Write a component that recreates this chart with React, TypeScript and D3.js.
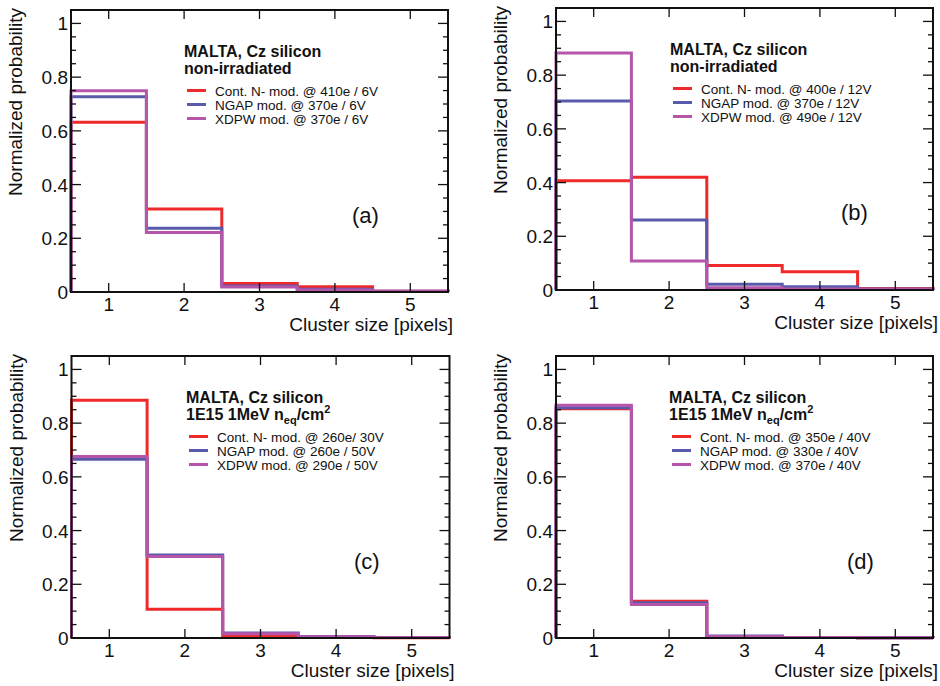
import React from "react";
import * as d3 from "d3";

// ---- data ----
const clusterSizes = [1, 2, 3, 4, 5];
const yTickValues = [0, 0.2, 0.4, 0.6, 0.8, 1];
const yTickLabels = ["0", "0.2", "0.4", "0.6", "0.8", "1"];
const seriesNames = ["Cont. N- mod.", "NGAP mod.", "XDPW mod."];
const seriesColors = ["#ee2a2a", "#5a5aac", "#b656aa"];

// panel (a) non-irradiated
const aContN = [0.632, 0.309, 0.032, 0.02, 0.003];
const aNgap = [0.727, 0.237, 0.022, 0.01, 0.003];
const aXdpw = [0.749, 0.222, 0.019, 0.007, 0.003];
const aSettings = ["@ 410e / 6V", "@ 370e  / 6V", "@ 370e / 6V"];

// panel (b) non-irradiated
const bContN = [0.407, 0.42, 0.091, 0.068, 0.006];
const bNgap = [0.704, 0.261, 0.021, 0.012, 0.004];
const bXdpw = [0.882, 0.108, 0.008, 0.004, 0.003];
const bSettings = ["@ 400e / 12V", "@ 370e  / 12V", "@ 490e  / 12V"];

// panel (c) irradiated
const cContN = [0.885, 0.107, 0.006, 0.002, 0.001];
const cNgap = [0.666, 0.309, 0.019, 0.006, 0.002];
const cXdpw = [0.676, 0.303, 0.016, 0.005, 0.002];
const cSettings = ["@ 260e/ 30V", "@ 260e / 50V", "@ 290e / 50V"];

// panel (d) irradiated
const dContN = [0.854, 0.137, 0.006, 0.002, 0.001];
const dNgap = [0.857, 0.131, 0.007, 0.002, 0.001];
const dXdpw = [0.867, 0.125, 0.006, 0.002, 0.001];
const dSettings = ["@ 350e / 40V", "@ 330e  / 40V", "@ 370e  / 40V"];

const FONT = "'Liberation Sans', Arial, Helvetica, sans-serif";

type PanelProps = {
  left: number;
  right: number;
  top: number;
  bottom: number;
  series: number[][];
  settings: string[];
  irradiated: boolean;
  label: string;
  labelX: number;
  labelY: number;
  legX: number;
  legY: number;
};

function Panel(p: PanelProps) {
  const x = d3.scaleLinear().domain([0.5, 5.5]).range([p.left, p.right]);
  const y = d3.scaleLinear().domain([0, 1.05]).range([p.bottom, p.top]);
  const line = d3
    .line<[number, number]>()
    .x((d) => x(d[0]))
    .y((d) => y(d[1]))
    .curve(d3.curveStepAfter);

  const minorY = d3.range(0, 21).map((i) => i * 0.05).filter((v) => Math.round(v * 100) % 20 !== 0);

  const paths = p.series.map((vals) => {
    const pts: [number, number][] = [[0.5, 0]];
    vals.forEach((v, i) => pts.push([clusterSizes[i] - 0.5, v]));
    pts.push([5.5, vals[vals.length - 1]]);
    pts.push([5.5, 0]);
    return line(pts) as string;
  });

  const majLen = 10;
  const minLen = 5;
  const xLen = 9;

  return (
    <g>
      {paths.map((d, i) => (
        <path key={i} d={d} fill="none" stroke={seriesColors[i]} strokeWidth={3} strokeLinejoin="miter" />
      ))}
      {/* frame */}
      <rect x={p.left} y={p.top} width={p.right - p.left} height={p.bottom - p.top} fill="none" stroke="#111" strokeWidth={2} />
      {/* y ticks */}
      {yTickValues.map((v) => (
        <g key={"ym" + v}>
          <line x1={p.left} x2={p.left + majLen} y1={y(v)} y2={y(v)} stroke="#111" strokeWidth={1.3} />
          <line x1={p.right} x2={p.right - majLen} y1={y(v)} y2={y(v)} stroke="#111" strokeWidth={1.3} />
        </g>
      ))}
      {minorY.map((v) => (
        <g key={"yn" + v}>
          <line x1={p.left} x2={p.left + minLen} y1={y(v)} y2={y(v)} stroke="#111" strokeWidth={1.3} />
          <line x1={p.right} x2={p.right - minLen} y1={y(v)} y2={y(v)} stroke="#111" strokeWidth={1.3} />
        </g>
      ))}
      {yTickValues.map((v, i) => (
        <text key={"yl" + v} x={p.left - 3} y={y(v) + 7} textAnchor="end" fontSize={19} fontFamily={FONT} fill="#111">
          {yTickLabels[i]}
        </text>
      ))}
      {/* x ticks */}
      {clusterSizes.map((v) => (
        <g key={"x" + v}>
          <line x1={x(v)} x2={x(v)} y1={p.bottom} y2={p.bottom - xLen} stroke="#111" strokeWidth={1.3} />
          <line x1={x(v)} x2={x(v)} y1={p.top} y2={p.top + xLen} stroke="#111" strokeWidth={1.3} />
          <text x={x(v)} y={p.bottom + 19} textAnchor="middle" fontSize={19} fontFamily={FONT} fill="#111">
            {v}
          </text>
        </g>
      ))}
      {/* axis titles */}
      <text x={p.right + 5} y={p.bottom + 39} textAnchor="end" fontSize={19} fontFamily={FONT} fill="#111">
        Cluster size [pixels]
      </text>
      <text
        transform={`translate(${p.left - 49},${p.top - 2}) rotate(-90)`}
        textAnchor="end"
        fontSize={19}
        fontFamily={FONT}
        fill="#111"
      >
        Normalized probability
      </text>
      {/* header */}
      <text x={p.legX} y={p.legY} fontSize={16} fontWeight="bold" fontFamily={FONT} fill="#111">
        MALTA, Cz silicon
      </text>
      {p.irradiated ? (
        <text x={p.legX} y={p.legY + 17} fontSize={16} fontWeight="bold" fontFamily={FONT} fill="#111">
          1E15 1MeV n
          <tspan fontSize={11} dy={4}>eq</tspan>
          <tspan dy={-4}>/cm</tspan>
          <tspan fontSize={11} dy={-7}>2</tspan>
        </text>
      ) : (
        <text x={p.legX} y={p.legY + 17} fontSize={16} fontWeight="bold" fontFamily={FONT} fill="#111">
          non-irradiated
        </text>
      )}
      {/* legend entries */}
      {seriesNames.map((n, i) => {
        const ly = p.legY + 33.5 + i * 14;
        return (
          <g key={"lg" + i}>
            <line x1={p.legX + 3} x2={p.legX + 22} y1={ly} y2={ly} stroke={seriesColors[i]} strokeWidth={3} />
            <text x={p.legX + 31} y={ly + 5} fontSize={13.5} fontFamily={FONT} fill="#111">
              {n} {p.settings[i]}
            </text>
          </g>
        );
      })}
      <text x={p.labelX} y={p.labelY} fontSize={22} fontFamily={FONT} fill="#111">
        {p.label}
      </text>
    </g>
  );
}

export default function App() {
  return (
    <svg
      width={940}
      height={686}
      viewBox="0 0 940 686"
      style={{ position: "absolute", left: 0, top: 0, background: "#fff" }}
    >
      <rect x={0} y={0} width={940} height={686} fill="#fff" />
      <Panel left={71} right={448} top={10} bottom={292} series={[aContN, aNgap, aXdpw]} settings={aSettings}
        irradiated={false} label="(a)" labelX={352} labelY={223} legX={184} legY={57} />
      <Panel left={556} right={933} top={8} bottom={290} series={[bContN, bNgap, bXdpw]} settings={bSettings}
        irradiated={false} label="(b)" labelX={841} labelY={220} legX={670} legY={55} />
      <Panel left={71.5} right={449.5} top={356} bottom={638} series={[cContN, cNgap, cXdpw]} settings={cSettings}
        irradiated={true} label="(c)" labelX={354} labelY={569} legX={186} legY={403} />
      <Panel left={556} right={933} top={356} bottom={638} series={[dContN, dNgap, dXdpw]} settings={dSettings}
        irradiated={true} label="(d)" labelX={847} labelY={569} legX={669} legY={403} />
    </svg>
  );
}
